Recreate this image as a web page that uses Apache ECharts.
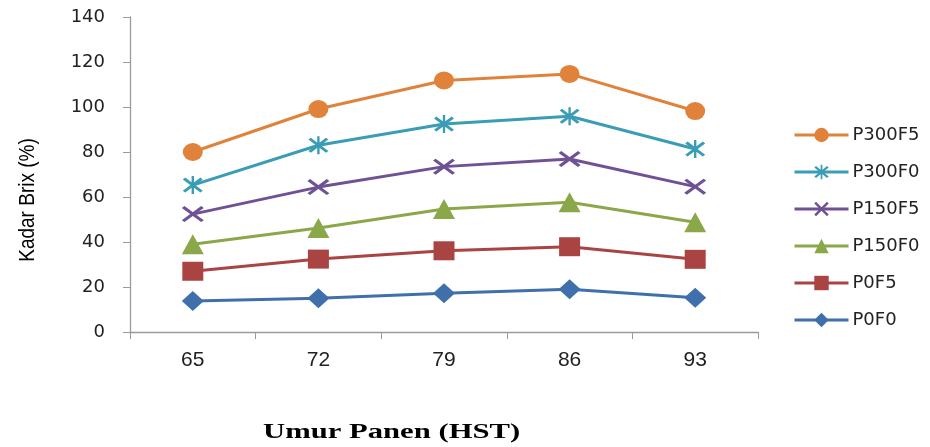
<!DOCTYPE html>
<html><head><meta charset="utf-8">
<script src="https://cdn.jsdelivr.net/npm/echarts@6/dist/echarts.min.js"></script>
<style>html,body{margin:0;padding:0;background:#fff}#c{width:930px;height:447px}</style>
</head><body><div id="c"></div>
<script>
const categories = ['65','72','79','86','93'];
const P300F5 = [80.0, 99.1, 111.8, 114.7, 98.2];
const P300F0 = [65.3, 83.0, 92.4, 95.9, 81.3];
const P150F5 = [52.4, 64.4, 73.5, 76.9, 64.6];
const P150F0 = [39.0, 46.2, 54.7, 57.7, 48.8];
const P0F5 = [27.0, 32.4, 36.1, 37.9, 32.3];
const P0F0 = [13.8, 15.0, 17.2, 19.0, 15.2];
const yTicks = [0, 20, 40, 60, 80, 100, 120, 140];
const xTitle = 'Umur Panen (HST)';
const yTitle = 'Kadar Brix (%)';

const X_PATH = 'path://M0,1.2 L1.2,0 L10,8.8 L8.8,10 Z M8.8,0 L10,1.2 L1.2,10 L0,8.8 Z';
const AST_PATH = 'path://M0,1.2 L1.2,0 L10,8.8 L8.8,10 Z M8.8,0 L10,1.2 L1.2,10 L0,8.8 Z M4.4,-1 L5.6,-1 L5.6,11 L4.4,11 Z';

const seriesDefs = [
  {name:'P300F5', data:P300F5, color:'#E0823A', symbol:'circle', size:[20,18]},
  {name:'P300F0', data:P300F0, color:'#3A9DB5', symbol:AST_PATH, size:[20,18]},
  {name:'P150F5', data:P150F5, color:'#6F5195', symbol:X_PATH, size:[22,16]},
  {name:'P150F0', data:P150F0, color:'#8AA84A', symbol:'triangle', size:[22,20]},
  {name:'P0F5', data:P0F5, color:'#A94442', symbol:'rect', size:[21,19]},
  {name:'P0F0', data:P0F0, color:'#3F70AC', symbol:'diamond', size:[22,20]}
];

const chart = echarts.init(document.getElementById('c'));
chart.setOption({
  animation:false,
  backgroundColor:'#fff',
  grid:{left:130, right:172, top:17, bottom:115, containLabel:false, outerBoundsMode:'none'},
  legend:{
    orient:'vertical', left:788, top:121,
    itemWidth:54, itemHeight:18, itemGap:19,
    lineStyle:{width:3},
    textStyle:{fontFamily:'DejaVu Sans', fontSize:18, color:'#222', padding:[0,0,0,-1]},
    data:seriesDefs.map(s=>s.name)
  },
  graphic:[
    {type:'text', x:263, y:433, scaleX:1.46, style:{text:xTitle, font:'bold 21px "Liberation Serif"', fill:'#000', align:'left', verticalAlign:'middle'}},
    {type:'text', x:28, y:200, rotation:Math.PI/2, scaleY:1.2, style:{text:yTitle, font:'19px "Liberation Sans"', fill:'#000', align:'center', verticalAlign:'middle'}}
  ],
  xAxis:{
    type:'category', data:categories, boundaryGap:true,
    axisLine:{lineStyle:{color:'#9a9a9a', width:1.3}},
    axisTick:{show:true, length:7, lineStyle:{color:'#9a9a9a'}},
    axisLabel:{fontFamily:'Liberation Sans', fontSize:21, color:'#222', margin:18}
  },
  yAxis:{
    type:'value', min:0, max:140, interval:20,
    axisLine:{show:true, lineStyle:{color:'#9a9a9a', width:1.3}},
    axisTick:{show:true, length:7, lineStyle:{color:'#9a9a9a'}},
    splitLine:{show:false},
    axisLabel:{fontFamily:'DejaVu Sans', fontSize:18, color:'#222', margin:25,
      formatter:v=>yTicks.includes(v)?String(v):''}
  },
  series:seriesDefs.map(s=>({
    name:s.name, type:'line', data:s.data,
    symbol:s.symbol, symbolSize:s.size,
    lineStyle:{color:s.color, width:3},
    itemStyle:{color:s.color, borderWidth:0},
    showSymbol:true
  }))
});
</script>
</body></html>
